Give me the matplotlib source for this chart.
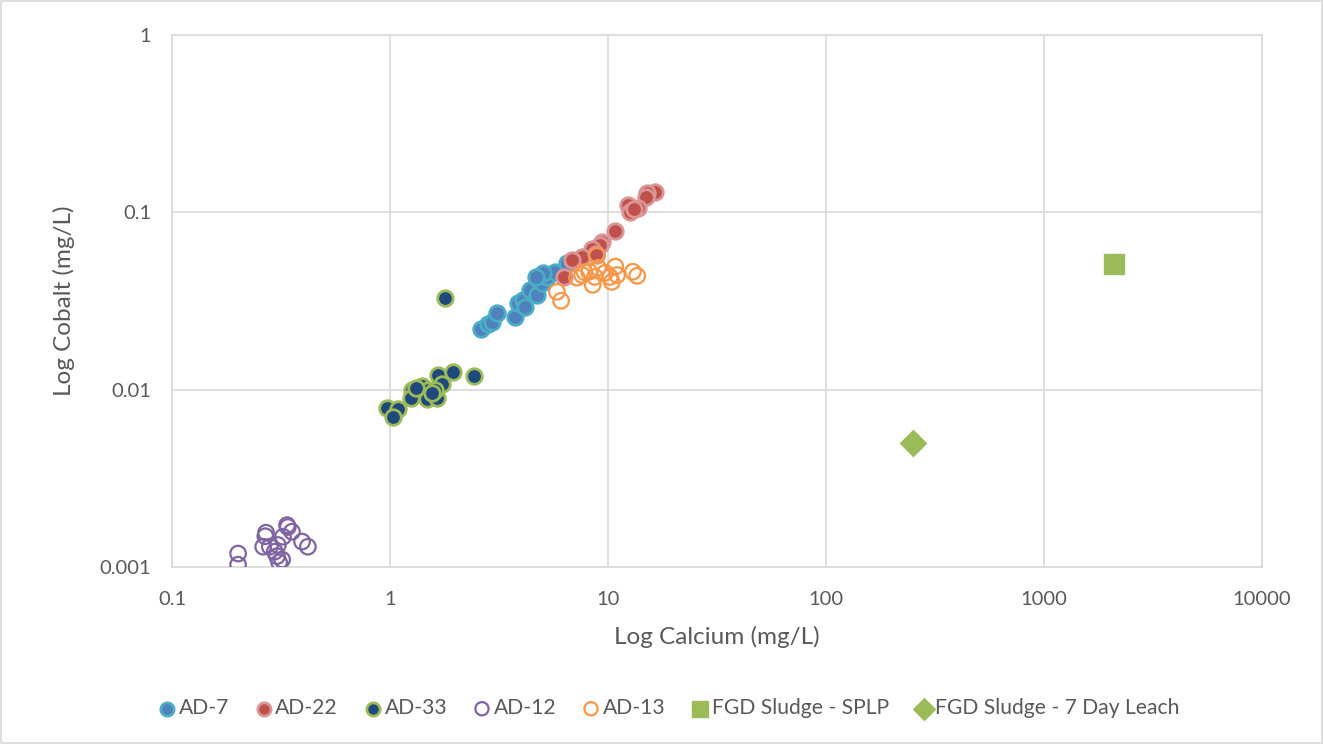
import matplotlib
matplotlib.use("Agg")
import matplotlib.pyplot as plt
from matplotlib.patches import Rectangle

plt.rcParams['font.family'] = ['Lato', 'DejaVu Sans']

# Monitoring well data: calcium (x) vs cobalt (y), mg/L
ad7_ca = [2.61, 2.81, 2.95, 3.09, 3.74, 3.86, 4.07, 4.16, 4.38, 4.73, 4.77, 4.98, 5.25, 5.72, 6.47, 5.03, 4.67]
ad7_co = [0.0221, 0.0235, 0.0240, 0.0271, 0.0258, 0.0309, 0.0321, 0.0293, 0.0366, 0.0343, 0.0417, 0.0400, 0.0433, 0.0462, 0.0520, 0.0456, 0.0433]

ad22_ca = [16.4, 15.1, 14.9, 13.7, 12.4, 12.6, 13.2, 10.8, 9.4, 9.2, 8.4, 7.6, 6.8, 6.3, 8.8]
ad22_co = [0.130, 0.128, 0.122, 0.106, 0.110, 0.100, 0.104, 0.078, 0.068, 0.065, 0.062, 0.056, 0.054, 0.043, 0.058]

ad33_ca = [0.97, 1.09, 1.03, 1.26, 1.25, 1.40, 1.49, 1.48, 1.64, 1.66, 1.73, 1.95, 2.43, 1.61, 1.79, 1.31, 1.55]
ad33_co = [0.0079, 0.0078, 0.0070, 0.0100, 0.0090, 0.0105, 0.0099, 0.0088, 0.0090, 0.0121, 0.0107, 0.0125, 0.0120, 0.0100, 0.0330, 0.0102, 0.0096]

ad12_ca = [0.201, 0.201, 0.262, 0.270, 0.268, 0.281, 0.296, 0.303, 0.310, 0.320, 0.337, 0.340, 0.355, 0.323, 0.395, 0.420, 0.306]
ad12_co = [0.00119, 0.00103, 0.00130, 0.00156, 0.00149, 0.00130, 0.00122, 0.00115, 0.00106, 0.00110, 0.00172, 0.00168, 0.00158, 0.00148, 0.00139, 0.00130, 0.00133]

ad13_ca = [5.83, 6.09, 7.2, 7.6, 8.2, 8.9, 8.5, 9.0, 8.7, 10.2, 10.4, 10.8, 11.0, 13.0, 13.6, 7.8, 9.7]
ad13_co = [0.0356, 0.0317, 0.0428, 0.0443, 0.0462, 0.0568, 0.0390, 0.0486, 0.0432, 0.0432, 0.0405, 0.0494, 0.0443, 0.0462, 0.0438, 0.0460, 0.0456]

splp_ca = [2100]
splp_co = [0.051]
leach_ca = [250]
leach_co = [0.005]

x_ticks = [0.1, 1, 10, 100, 1000, 10000]
x_tick_labels = ['0.1', '1', '10', '100', '1000', '10000']
y_ticks = [0.001, 0.01, 0.1, 1]
y_tick_labels = ['0.001', '0.01', '0.1', '1']

fig = plt.figure(figsize=(13.23, 7.44), dpi=100)
ax = fig.add_axes([0.130, 0.238, 0.824, 0.715])

ms = 125
ax.scatter(ad7_ca, ad7_co, s=ms, facecolor='#4F81BD', edgecolor='#4BACC6', linewidth=2.0, label='AD-7', zorder=3)
ax.scatter(ad22_ca, ad22_co, s=ms, facecolor='#C0504D', edgecolor='#DA9694', linewidth=2.0, label='AD-22', zorder=3)
ax.scatter(ad33_ca, ad33_co, s=ms, facecolor='#1F497D', edgecolor='#9BBB59', linewidth=2.0, label='AD-33', zorder=3)
ax.scatter(ad12_ca, ad12_co, s=ms, facecolor='none', edgecolor='#8064A2', linewidth=1.6, label='AD-12', zorder=3)
ax.scatter(ad13_ca, ad13_co, s=ms, facecolor='none', edgecolor='#F79646', linewidth=1.6, label='AD-13', zorder=3)
ax.scatter(splp_ca, splp_co, s=200, marker='s', facecolor='#9BBB59', edgecolor='#9BBB59', label='FGD Sludge - SPLP', zorder=3)
ax.scatter(leach_ca, leach_co, s=200, marker='D', facecolor='#9BBB59', edgecolor='#9BBB59', linewidth=0, label='FGD Sludge - 7 Day Leach', zorder=3)

ax.set_xscale('log')
ax.set_yscale('log')
ax.set_xlim(0.1, 10000)
ax.set_ylim(0.001, 1)
ax.set_xticks(x_ticks)
ax.set_xticklabels(x_tick_labels)
ax.set_yticks(y_ticks)
ax.set_yticklabels(y_tick_labels)
ax.minorticks_off()
ax.tick_params(axis='both', length=0, labelsize=14.5, colors='#595959')
ax.tick_params(axis='x', pad=17)
ax.tick_params(axis='y', pad=15)
ax.grid(True, color='#D9D9D9', linewidth=1.2, zorder=0)
ax.set_axisbelow(True)
for side in ['top', 'right', 'left', 'bottom']:
    ax.spines[side].set_color('#D9D9D9')
    ax.spines[side].set_linewidth(1.2)

ax.set_xlabel('Log Calcium (mg/L)', fontsize=17.5, color='#595959', labelpad=13)
ax.set_ylabel('Log Cobalt (mg/L)', fontsize=17.5, color='#595959', labelpad=18)

leg = fig.legend(loc='center', bbox_to_anchor=(0.505, 0.048), ncol=7, frameon=False,
                 fontsize=15.2, labelcolor='#595959', handletextpad=0.05, columnspacing=1.15,
                 markerscale=0.85, handlelength=1.0)

fig.patches.append(Rectangle((0.001, 0.001), 0.998, 0.998, transform=fig.transFigure,
                             fill=False, edgecolor='#D9D9D9', linewidth=1.2))

fig.savefig('out.png', dpi=100)
